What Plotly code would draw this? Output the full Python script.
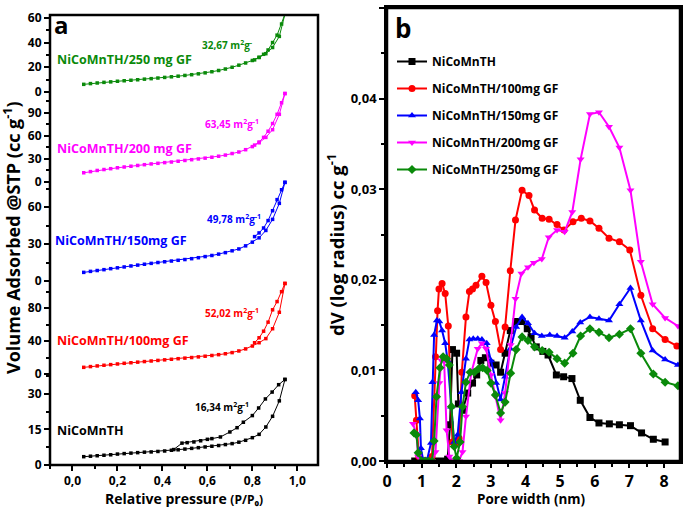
import plotly.graph_objects as go

W, H = 685, 507
def fx(px): return px / W
def fy(py): return 1 - py / H

FONT = "Open Sans"

# ---------------- Panel a data: N2 isotherms ----------------
p_ads = [0.05,0.08,0.11,0.14,0.17,0.20,0.23,0.26,0.29,0.32,0.35,0.38,0.41,0.44,0.47,0.50,
         0.53,0.56,0.59,0.62,0.65,0.68,0.71,0.74,0.77,0.80,0.83,0.86,0.89,0.92,0.945]
p_des = [0.945,0.93,0.91,0.89,0.87,0.85,0.83,0.81]

ads_250 = [6.2,6.8,7.3,7.8,8.2,8.7,9.1,9.5,9.9,10.4,10.8,11.3,11.8,12.3,12.8,13.4,
           14.0,14.7,15.5,16.4,17.4,18.6,20.0,21.7,23.5,25.5,28.0,31.0,36.0,45.0,63.0]
des_250 = [63,55,46,40,34,30.5,28,26]

ads_200 = [12,13.5,15,16.2,17.3,18.5,19.5,20.5,21.5,22.5,23.5,24.3,25.2,26,27,28,
           29,30,31,32.2,33.5,35,37,39,42,46,51,58,68,88,115]
des_200 = [115,103,88,76,66,58,52,48]

ads_150 = [7,7.8,8.5,9.2,10,10.7,11.4,12.2,12.9,13.6,14.3,15,15.6,16.2,16.8,17.4,
           18.1,18.9,19.8,20.7,21.8,23,24.5,26,28.5,31.5,35,41,50,63,80]
des_150 = [80,74,66,57,49,43,39,36]

ads_100 = [8.1,9,9.8,10.6,11.4,12.2,13,13.7,14.4,15.1,15.8,16.5,17.2,17.9,18.6,19.3,
           20,20.8,21.6,22.5,23.5,24.6,26,28,30.5,34,38,43,55,75,110]
des_100 = [110,100,88,78,63,52,44,38]

ads_0 = [3.5,3.7,3.9,4.1,4.3,4.6,4.8,5.0,5.2,5.4,5.5,5.7,5.9,6.2,6.4,6.7,
         7.0,7.3,7.6,7.9,8.2,8.6,9.0,9.6,10.4,11.5,12.9,16,20.5,27,36]
p_des_0 = [0.945,0.917,0.888,0.858,0.828,0.80,0.76,0.732,0.70,0.658,0.62,0.60,0.57,0.54,0.51,0.487,0.45]
des_0 = [36,33.8,30.7,27.8,24,20.8,18,15.7,13.9,11.8,11.1,10.8,10.2,9.7,9.4,9.2,6.5]

x_ticks_a = [0.0,0.2,0.4,0.6,0.8,1.0]

# ---------------- Panel b data: pore size distributions ----------------
x_0 = [0.8,1.0,1.2,1.4,1.6,1.75,1.82,1.89,2.01,2.06,2.18,2.33,2.47,2.59,2.71,2.84,3.0,3.15,3.28,3.41,
       3.56,3.73,3.9,4.05,4.16,4.31,4.5,4.65,4.89,5.1,5.34,5.58,5.86,6.12,6.42,6.71,7.03,7.35,7.69,8.03]
y_0 = [0,0,0,0,0,0.0002,0.004,0.0123,0.0119,0.0063,0.0056,0.0075,0.0086,0.0095,0.0111,0.0114,0.0108,0.0106,0.0098,0.0119,
       0.0144,0.0154,0.0154,0.0146,0.0137,0.0126,0.0121,0.0117,0.0095,0.0093,0.0091,0.0067,0.0048,0.0042,0.0041,0.0040,0.0039,0.0031,0.0024,0.0021]

x_100 = [0.8,0.85,0.92,1.0,1.1,1.2,1.3,1.4,1.46,1.5,1.59,1.68,1.77,1.89,2.0,2.08,2.16,2.28,2.38,2.47,
         2.57,2.74,2.86,3.0,3.13,3.28,3.41,3.56,3.71,3.9,4.1,4.26,4.48,4.68,4.91,5.11,5.37,5.61,5.86,6.12,
         6.41,6.71,7.01,7.33,7.67,8.03,8.37]
y_100 = [0.0072,0.0045,0.0005,0,0,0,0.0005,0.0115,0.0166,0.019,0.0196,0.0185,0.0149,0.0021,0.002,0.0025,0.0098,0.0159,0.0187,0.019,
         0.0194,0.0204,0.0197,0.0172,0.0154,0.0123,0.0148,0.021,0.0266,0.0299,0.0293,0.0277,0.0268,0.0267,0.0261,0.0255,0.0264,0.0268,0.0265,0.0257,
         0.0246,0.0242,0.0233,0.0183,0.0146,0.0134,0.0127]

x_150 = [0.83,0.9,0.95,0.98,1.05,1.15,1.27,1.31,1.36,1.44,1.51,1.59,1.68,1.75,1.85,1.94,2.04,2.15,2.28,2.38,
         2.49,2.62,2.74,2.88,3.0,3.15,3.28,3.41,3.56,3.73,3.9,4.07,4.26,4.47,4.7,4.91,5.13,5.35,5.58,5.86,
         6.12,6.41,6.71,7.03,7.33,7.67,8.03,8.4]
y_150 = [0.0076,0.0067,0.0047,0.0014,0,0,0.002,0.0087,0.0139,0.0155,0.0154,0.0144,0.013,0.0111,0.006,0.0021,0.0029,0.0076,0.0113,0.0134,
         0.0135,0.0135,0.0134,0.013,0.0111,0.0086,0.0068,0.0093,0.0124,0.0148,0.0159,0.0152,0.0141,0.0138,0.0139,0.0138,0.0136,0.0143,0.0153,0.0159,
         0.0157,0.0155,0.0173,0.0191,0.0155,0.0122,0.0112,0.0106]

x_200 = [0.75,0.85,0.9,1.0,1.1,1.2,1.3,1.4,1.51,1.57,1.65,1.72,1.8,1.9,2.0,2.08,2.18,2.28,2.43,2.62,
         2.74,2.86,3.0,3.13,3.28,3.41,3.57,3.71,3.88,4.07,4.24,4.47,4.67,4.91,5.13,5.35,5.59,5.86,6.12,6.41,
         6.71,7.03,7.33,7.67,8.03,8.4]
y_200 = [0.0041,0.003,0.0005,0,0,0,0,0.001,0.0086,0.0111,0.011,0.0034,0.0005,0,0,0,0.001,0.0049,0.0097,0.0124,
         0.013,0.0124,0.0095,0.0071,0.0045,0.0075,0.0128,0.0179,0.0207,0.0214,0.0219,0.0223,0.0247,0.0255,0.0253,0.0275,0.0333,0.0383,0.0385,0.0369,
         0.0346,0.0299,0.022,0.0173,0.0158,0.0149]

x_250 = [0.78,0.85,0.9,1.0,1.1,1.2,1.3,1.36,1.43,1.53,1.62,1.72,1.8,1.86,1.94,2.01,2.11,2.18,2.28,2.4,
         2.52,2.65,2.76,2.89,3.0,3.13,3.28,3.41,3.57,3.73,3.9,4.07,4.26,4.48,4.68,4.91,5.13,5.37,5.59,5.86,
         6.12,6.41,6.71,7.03,7.33,7.69,8.03,8.4]
y_250 = [0.0031,0.0029,0.0009,0,0,0,0,0.0022,0.0071,0.0103,0.0115,0.0113,0.0106,0.006,0.0016,0.0003,0.0021,0.006,0.0087,0.0098,
         0.0098,0.0102,0.0103,0.01,0.0086,0.0073,0.0053,0.0065,0.0097,0.0123,0.0137,0.0133,0.0126,0.0122,0.012,0.0113,0.0108,0.0119,0.0138,0.0146,
         0.0142,0.0136,0.014,0.0146,0.0119,0.0096,0.0087,0.0083]

names_b = ["NiCoMnTH", "NiCoMnTH/100mg GF", "NiCoMnTH/150mg GF", "NiCoMnTH/200mg GF", "NiCoMnTH/250mg GF"]
labels_a = ["NiCoMnTH", "NiCoMnTH/100mg GF", "NiCoMnTH/150mg GF", "NiCoMnTH/200 mg GF", "NiCoMnTH/250 mg GF"]
bet_a = ["16,34 m<sup>2</sup>g<sup>-1</sup>", "52,02 m<sup>2</sup>g<sup>-1</sup>", "49,78 m<sup>2</sup>g<sup>-1</sup>",
         "63,45 m<sup>2</sup>g<sup>-1</sup>", "32,67 m<sup>2</sup>g<sup>-</sup>"]
colors = ["#000000", "#FF0000", "#0000FF", "#FF00FF", "#0A8A0A"]

fig = go.Figure()

# ---------- Panel a ----------
subs = [
    ("y",  ads_0,   des_0,   p_des_0, colors[0], 374, 465, 38.3, 15, labels_a[0], bet_a[0], (55, 430), (193, 407)),
    ("y2", ads_100, des_100, p_des,   colors[1], 281, 374, 113,  40, labels_a[1], bet_a[1], (55, 340), (203, 313)),
    ("y3", ads_150, des_150, p_des,   colors[2], 182, 281, 80.3, 30, labels_a[2], bet_a[2], (53, 240), (205, 219)),
    ("y4", ads_200, des_200, p_des,   colors[3], 92,  182, 117,  30, labels_a[3], bet_a[3], (55, 149), (203, 124)),
    ("y5", ads_250, des_250, p_des,   colors[4], 15,  92,  62.3, 20, labels_a[4], bet_a[4], (55, 59),  (200, 45)),
]

annotations = []
for i, (ya, ads, des, pd_, col, top, bot, ymax, dt, lab, bet, lp, bp) in enumerate(subs):
    for xs, ys in ((p_ads, ads), (pd_, des)):
        fig.add_trace(go.Scatter(x=xs, y=ys, xaxis="x", yaxis=ya, mode="lines+markers",
                                 line=dict(color=col, width=1),
                                 marker=dict(symbol="square", size=3.5, color=col),
                                 showlegend=False, cliponaxis=False))
    key = "yaxis" if ya == "y" else "yaxis" + ya[1:]
    fig.layout[key] = dict(domain=[fy(bot), fy(top)], range=[0, ymax], anchor="x",
                           automargin=False,
                           showgrid=False, zeroline=False, showline=False,
                           ticks="outside", ticklen=5, tickwidth=2, tickcolor="black",
                           dtick=dt, tick0=0,
                           minor=dict(dtick=dt / 2, ticks="outside", ticklen=3, tickwidth=1.5, tickcolor="black"),
                           tickfont=dict(family=FONT, size=12, color="black", weight="bold"))
    annotations.append(dict(x=fx(lp[0]), y=fy(lp[1]), xref="paper", yref="paper", text=lab,
                            showarrow=False, xanchor="left", yanchor="middle",
                            font=dict(family=FONT, size=12.5, color=col, weight="bold")))
    annotations.append(dict(x=fx(bp[0]), y=fy(bp[1]), xref="paper", yref="paper", text=bet,
                            showarrow=False, xanchor="left", yanchor="middle",
                            font=dict(family=FONT, size=10, color=col, weight="bold")))

fig.layout.xaxis = dict(domain=[fx(50), fx(318)], range=[-0.1, 1.092], anchor="y",
                        automargin=False,
                        tickvals=x_ticks_a, tickformat=".1f",
                        showgrid=False, zeroline=False, showline=False,
                        ticks="outside", ticklen=5, tickwidth=2, tickcolor="black",
                        minor=dict(dtick=0.1, ticks="outside", ticklen=3, tickwidth=1.5, tickcolor="black"),
                        tickfont=dict(family=FONT, size=12, color="black", weight="bold"))

# ---------- Panel b ----------
symbols = ["square", "circle", "triangle-up", "triangle-down", "diamond"]
for i, (xs, ys) in enumerate([(x_0, y_0), (x_100, y_100), (x_150, y_150), (x_200, y_200), (x_250, y_250)]):
    fig.add_trace(go.Scatter(x=xs, y=ys, xaxis="x2", yaxis="y6", mode="lines+markers",
                             name=names_b[i], legendgroup=names_b[i],
                             line=dict(color=colors[i], width=2),
                             marker=dict(symbol=symbols[i], size=7, color=colors[i]),
                             cliponaxis=True))

fig.layout.xaxis2 = dict(domain=[fx(387), fx(680)], range=[0, 8.46], anchor="y6",
                         automargin=False,
                         dtick=1, tick0=0, showgrid=False, zeroline=False,
                         showline=True, linewidth=2.5, linecolor="black", mirror=True,
                         ticks="outside", ticklen=4, tickwidth=2, tickcolor="black",
                         minor=dict(dtick=0.5, ticks="outside", ticklen=3, tickwidth=1.5, tickcolor="black"),
                         tickfont=dict(family=FONT, size=16, color="black", weight="bold"))
fig.layout.yaxis6 = dict(domain=[fy(461), fy(8)], range=[0, 0.05001], anchor="x2",
                         automargin=False,
                         dtick=0.01, tick0=0, tickformat=".2f", showgrid=False, zeroline=False,
                         showline=True, linewidth=2.5, linecolor="black", mirror=True,
                         ticks="outside", ticklen=5, tickwidth=2, tickcolor="black",
                         minor=dict(dtick=0.005, ticks="outside", ticklen=3, tickwidth=1.5, tickcolor="black"),
                         tickfont=dict(family=FONT, size=13, color="black", weight="bold"))

# ---------- titles & panel letters ----------
extra = [
    dict(x=fx(61), y=fy(24), text="a", font=dict(family=FONT, size=24, color="black", weight="bold")),
    dict(x=fx(403), y=fy(28), text="b", font=dict(family=FONT, size=26, color="black", weight="bold")),
    dict(x=fx(12), y=fy(238), text="Volume Adsorbed @STP (cc g<sup>-1</sup>)", textangle=-90,
         font=dict(family=FONT, size=18, color="black", weight="bold")),
    dict(x=fx(184), y=fy(498), text="Relative pressure <span style='font-size:12px'>(P/P₀)</span>",
         font=dict(family=FONT, size=14, color="black", weight="bold")),
    dict(x=fx(531), y=fy(499), text="Pore width (nm)",
         font=dict(family=FONT, size=13.5, color="black", weight="bold")),
    dict(x=fx(335), y=fy(245), text="dV (log radius) cc g<sup>-1</sup>", textangle=-90,
         font=dict(family=FONT, size=18.5, color="black", weight="bold")),
]
for a in extra:
    a.update(xref="paper", yref="paper", showarrow=False, xanchor="center", yanchor="middle")
annotations += extra

frame_line = dict(color="black", width=2.5)
fig.update_layout(
    template="none",
    width=W, height=H, margin=dict(l=0, r=0, t=0, b=0, pad=0, autoexpand=False),
    paper_bgcolor="white", plot_bgcolor="white",
    separators=",.",
    annotations=annotations,
    shapes=[
        dict(type="rect", xref="paper", yref="paper", x0=fx(50), x1=fx(318), y0=fy(465), y1=fy(15),
             line=frame_line, fillcolor="rgba(0,0,0,0)", layer="above"),
        dict(type="rect", xref="paper", yref="paper", x0=fx(387), x1=fx(680), y0=fy(461), y1=fy(8),
             line=frame_line, fillcolor="rgba(0,0,0,0)", layer="above"),
    ],
    legend=dict(x=fx(392), y=fy(47), xanchor="left", yanchor="top", bgcolor="rgba(0,0,0,0)",
                font=dict(family=FONT, size=12, color="black", weight="bold"),
                tracegroupgap=8, itemwidth=30),
    font=dict(family=FONT, color="black"),
)

fig.write_html("out.html", config={"displayModeBar": False},
               post_script="document.body.style.margin='0px';")
